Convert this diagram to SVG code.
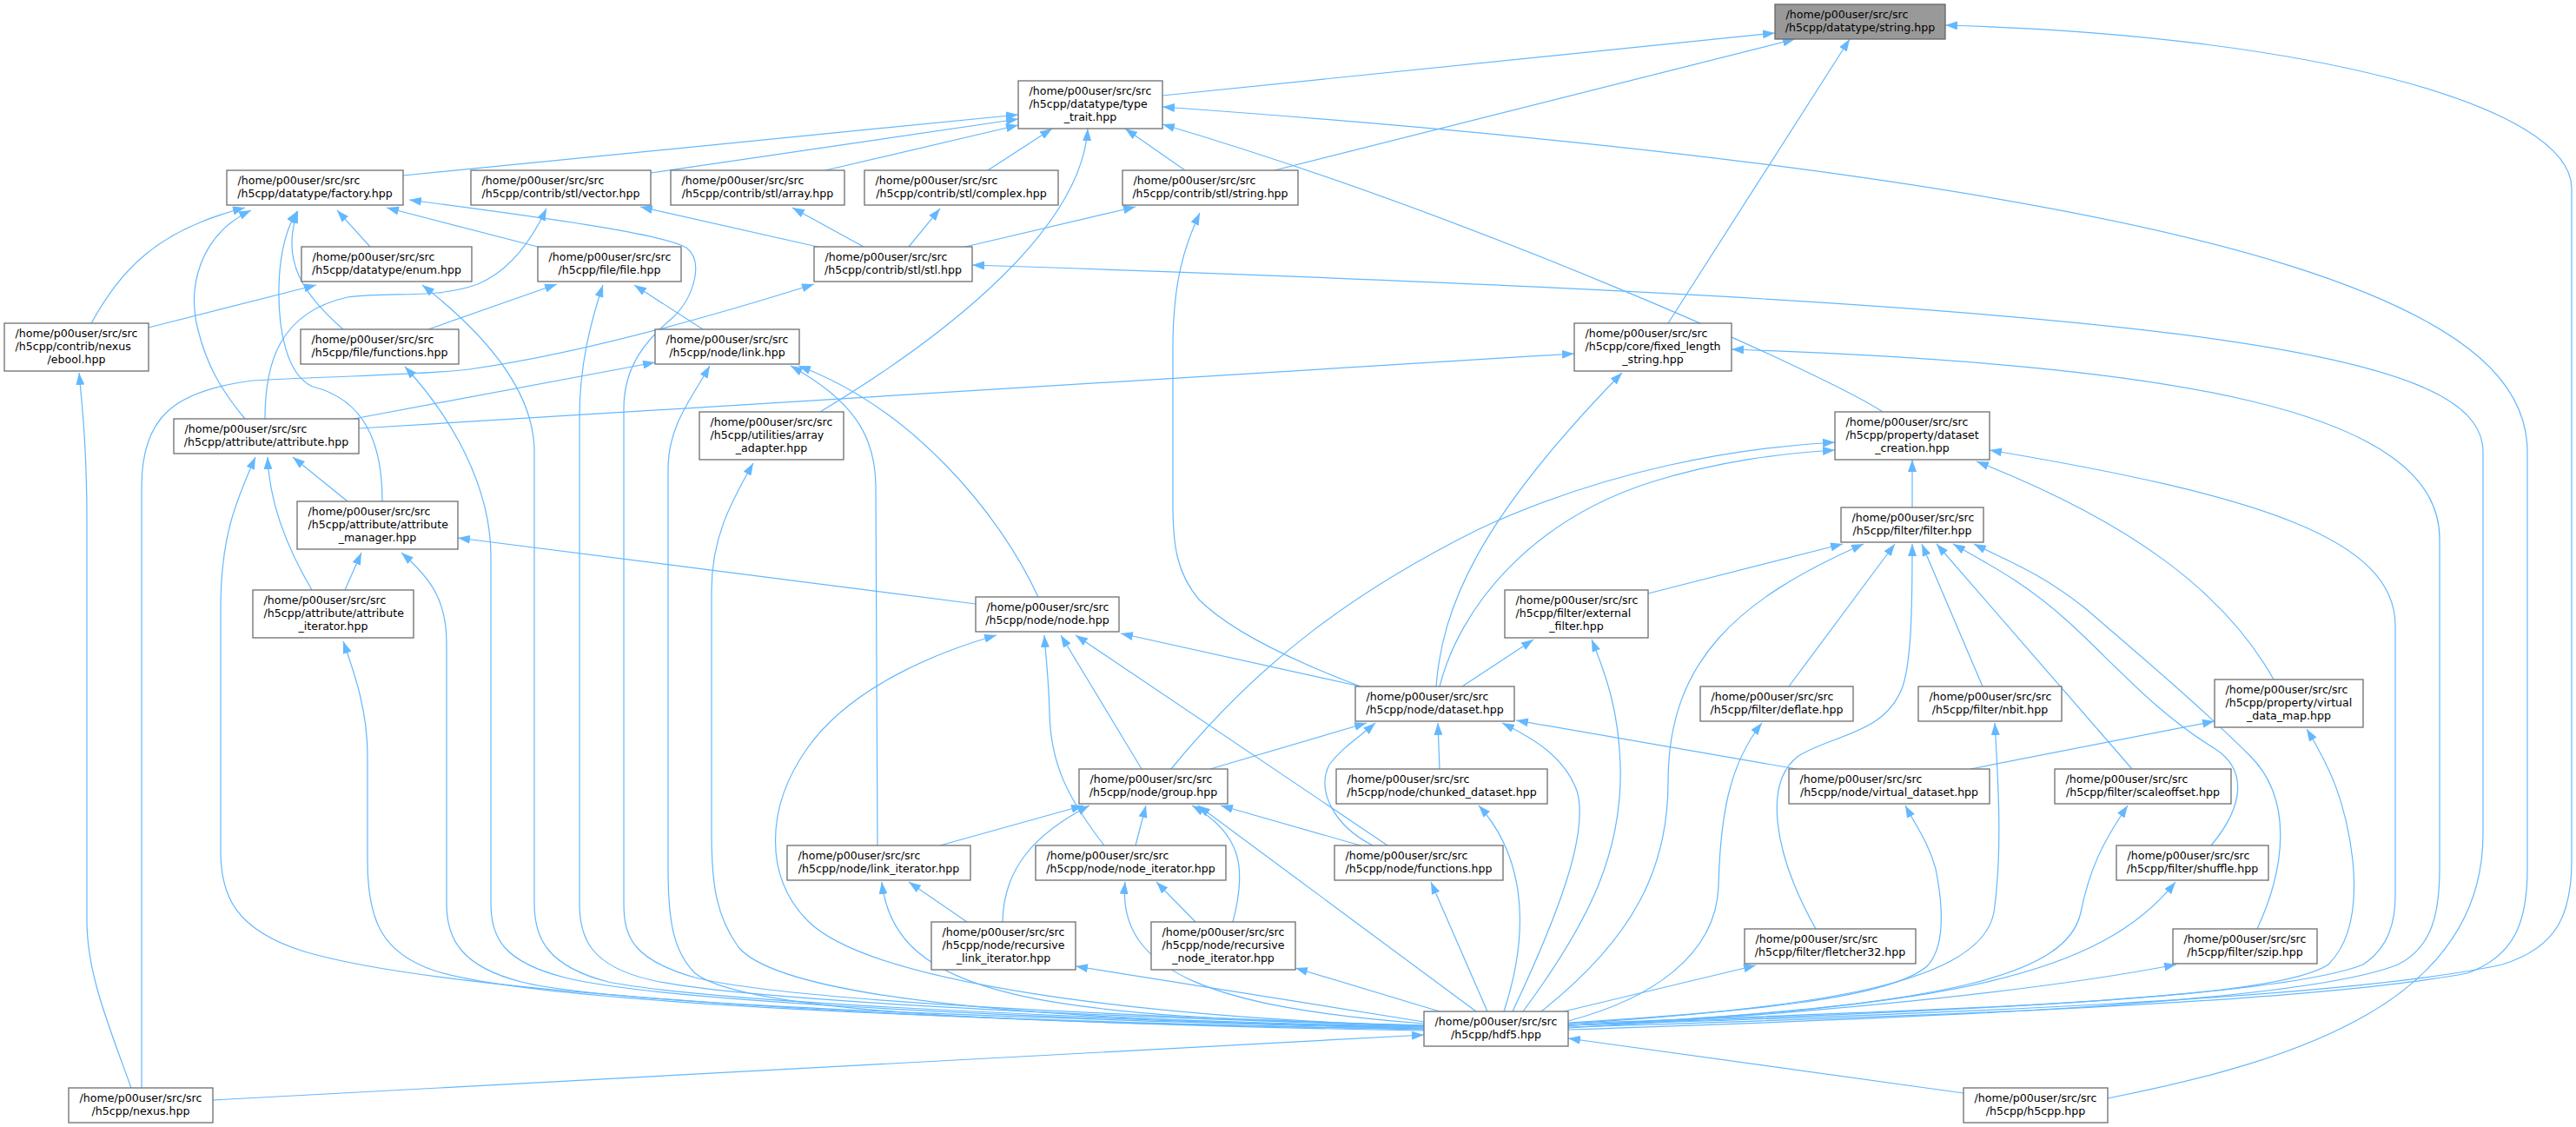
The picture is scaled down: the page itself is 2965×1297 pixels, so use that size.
<svg xmlns="http://www.w3.org/2000/svg" width="2965" height="1297" viewBox="0 0 2965 1297">
<style>
.node rect{fill:#ffffff;stroke:#6e6e6e;stroke-width:1.3}
.node.root rect{fill:#999999;stroke:#666666}
.node text{font-family:"DejaVu Sans","Liberation Sans",sans-serif;font-size:12.6px;fill:#000000}
.node text.c{text-anchor:middle}
#edges path{fill:none;stroke:#63b8ff;stroke-width:1.2;marker-end:url(#arr)}
</style>
<defs>
<marker id="arr" markerUnits="userSpaceOnUse" markerWidth="14" markerHeight="10" refX="14" refY="5" orient="auto" viewBox="0 0 14 10"><path d="M0,0 L14,5 L0,10 Z" fill="#63b8ff"/></marker>
</defs>
<rect x="0" y="0" width="2965" height="1297" fill="#ffffff"/>
<g id="edges">
<path d="M1338,110 L2043,38"/>
<path d="M1467,196 L2066,45"/>
<path d="M1920,372 L2129,45"/>
<path d="M1805,1180 C2200,1168 2700,1150 2880,1110 C2945,1090 2960,1050 2960,990 L2960,217 C2960,120 2650,40 2239,29"/>
<path d="M464,202 L1172,132"/>
<path d="M749,199 L1172,137"/>
<path d="M950,196 L1172,144"/>
<path d="M1137,196 L1211,148"/>
<path d="M1364,196 L1295,148"/>
<path d="M944,474 C1100,380 1245,260 1252,148"/>
<path d="M2167,474 C2100,430 1700,250 1338,143"/>
<path d="M1805,1182 C2200,1170 2650,1155 2840,1120 C2895,1100 2909,1060 2909,1000 L2909,520 C2909,380 2700,220 1338,123"/>
<path d="M105,372 C140,310 180,265 282,239"/>
<path d="M282,482 C255,450 238,420 228,380 C215,330 230,270 289,242"/>
<path d="M395,379 C350,340 322,300 343,243"/>
<path d="M440,577 C440,510 420,460 360,445 C330,432 320,380 321,330 C322,290 330,262 342,243"/>
<path d="M426,284 L388,242"/>
<path d="M619,284 L445,239"/>
<path d="M1639,1180 C1250,1168 900,1150 800,1125 C730,1105 718,1080 718,1040 L718,470 C718,420 745,390 775,365 C800,340 810,300 790,285 C760,268 620,250 471,230"/>
<path d="M305,482 C305,420 320,360 400,342 C450,335 500,345 550,327 C590,310 615,270 629,240"/>
<path d="M941,284 L737,238"/>
<path d="M994,284 L912,239"/>
<path d="M1046,284 L1082,240"/>
<path d="M1111,284 L1307,238"/>
<path d="M1566,790 C1500,765 1420,730 1380,690 C1355,660 1350,630 1350,580 L1350,400 C1350,320 1365,280 1381,245"/>
<path d="M163,1252 L163,560 C163,480 200,450 290,438 C400,432 480,432 540,425 C650,410 800,370 937,327"/>
<path d="M2426,1264 C2650,1220 2858,1150 2858,960 L2858,520 C2858,400 2500,350 1119,305"/>
<path d="M171,377 L364,328"/>
<path d="M1639,1182 C1150,1170 800,1150 700,1130 C630,1112 615,1080 615,1040 L615,520 C615,440 540,370 486,328"/>
<path d="M493,379 L641,327"/>
<path d="M809,379 L730,328"/>
<path d="M1639,1181 C1200,1168 850,1150 750,1128 C680,1112 667,1080 667,1040 L667,480 C667,420 680,370 694,328"/>
<path d="M151,1252 C125,1180 100,1120 100,1060 L100,600 C100,520 95,470 91,429"/>
<path d="M1639,1183 C1100,1170 750,1150 650,1125 C580,1107 565,1080 565,1040 L565,640 C565,560 520,480 466,422"/>
<path d="M407,482 L754,417"/>
<path d="M1195,687 C1150,590 1050,470 919,421"/>
<path d="M1010,973 L1008,560 C1008,500 980,460 910,421"/>
<path d="M1639,1184 C1100,1178 850,1160 800,1120 C775,1095 769,1060 769,1000 L769,540 C769,490 795,460 817,421"/>
<path d="M413,493 L1812,407"/>
<path d="M1653,790 C1660,700 1700,600 1867,429"/>
<path d="M1805,1185 C2200,1172 2650,1155 2760,1110 C2800,1090 2808,1050 2808,1000 L2808,620 C2808,470 2500,420 1993,402"/>
<path d="M400,577 L337,526"/>
<path d="M359,679 C330,630 310,580 308,526"/>
<path d="M1639,1186 C1000,1175 500,1140 350,1095 C270,1070 254,1030 254,980 L254,700 C254,620 270,580 294,526"/>
<path d="M397,679 L416,636"/>
<path d="M1123,695 L527,619"/>
<path d="M1639,1184 C1100,1170 700,1155 600,1130 C530,1112 514,1080 514,1040 L514,740 C514,690 495,665 462,636"/>
<path d="M1639,1185 C1000,1172 600,1150 500,1117 C440,1097 423,1060 423,990 L423,870 C423,820 410,780 395,738"/>
<path d="M1639,1182 C1200,1175 900,1150 850,1090 C825,1055 819,1020 819,960 L819,680 C819,620 840,580 867,533"/>
<path d="M1566,790 L1290,729"/>
<path d="M1314,885 L1221,731"/>
<path d="M1271,973 C1230,920 1209,880 1208,820 C1207,780 1204,760 1202,731"/>
<path d="M1597,973 L1238,731"/>
<path d="M1639,1181 C1300,1170 1000,1130 930,1060 C880,1010 880,930 930,860 C980,790 1080,750 1147,731"/>
<path d="M1348,885 C1450,760 1560,680 1700,610 C1850,540 2000,515 2112,509"/>
<path d="M1657,790 C1680,700 1760,600 1900,555 C1980,530 2050,522 2112,518"/>
<path d="M2201,584 L2201,529"/>
<path d="M2617,782 C2560,680 2450,600 2275,531"/>
<path d="M1805,1180 C2200,1165 2620,1150 2720,1110 C2750,1090 2757,1060 2757,1030 L2757,720 C2757,620 2600,570 2290,518"/>
<path d="M1897,683 L2121,626"/>
<path d="M2059,790 L2181,626"/>
<path d="M2282,790 L2212,626"/>
<path d="M2454,885 L2229,626"/>
<path d="M2545,973 C2585,925 2585,885 2550,862 C2480,820 2430,760 2380,715 C2330,670 2290,650 2248,626"/>
<path d="M2598,1069 C2630,1000 2640,920 2590,870 C2540,820 2470,760 2400,700 C2350,660 2310,645 2272,626"/>
<path d="M2090,1069 C2040,980 2030,900 2070,870 C2110,845 2170,845 2190,790 C2200,760 2201,700 2201,626"/>
<path d="M1774,1164 C1880,1080 1920,1000 1920,900 C1920,760 2000,690 2145,626"/>
<path d="M1683,790 L1765,736"/>
<path d="M1753,1164 C1830,1060 1868,980 1865,880 C1863,820 1850,780 1832,736"/>
<path d="M1393,885 L1573,832"/>
<path d="M1657,885 L1655,832"/>
<path d="M2068,885 L1745,829"/>
<path d="M1580,973 C1535,950 1515,910 1530,880 C1545,860 1565,848 1583,832"/>
<path d="M1741,1164 C1790,1060 1830,960 1815,910 C1800,870 1765,850 1729,832"/>
<path d="M1805,1175 C1900,1150 1975,1100 1978,1020 C1980,940 1990,880 2028,832"/>
<path d="M1805,1178 C2100,1160 2280,1130 2295,1050 C2305,980 2300,900 2296,832"/>
<path d="M2268,885 L2549,830"/>
<path d="M1805,1178 C2300,1160 2620,1150 2680,1110 C2710,1080 2712,1030 2708,990 C2700,920 2680,880 2655,839"/>
<path d="M1082,973 L1247,927"/>
<path d="M1154,1061 C1155,1000 1190,960 1254,927"/>
<path d="M1307,973 L1319,927"/>
<path d="M1419,1061 C1435,1000 1430,960 1372,927"/>
<path d="M1566,973 L1405,927"/>
<path d="M1699,1164 L1379,927"/>
<path d="M1731,1164 C1765,1060 1750,980 1702,927"/>
<path d="M1805,1177 C2000,1165 2180,1150 2220,1110 C2240,1085 2236,1040 2228,1000 C2220,970 2205,950 2193,927"/>
<path d="M1805,1180 C2250,1160 2380,1120 2395,1050 C2405,1000 2420,970 2449,927"/>
<path d="M1113,1061 L1046,1015"/>
<path d="M1639,1180 C1200,1170 1030,1150 1015,1015"/>
<path d="M1376,1061 L1331,1015"/>
<path d="M1639,1178 C1400,1160 1285,1120 1295,1015"/>
<path d="M1712,1164 L1647,1015"/>
<path d="M1805,1180 C2250,1160 2420,1120 2504,1015"/>
<path d="M1639,1176 L1238,1112"/>
<path d="M1657,1164 L1491,1114"/>
<path d="M1800,1164 L2021,1111"/>
<path d="M1805,1183 C2100,1165 2350,1140 2505,1110"/>
<path d="M245,1266 L1639,1191"/>
<path d="M2260,1258 L1805,1195"/>
</g>
<g id="n-string" class="node root"><rect x="2043" y="5" width="196" height="40"/><text x="2055.5" y="21">/home/p00user/src/src</text><text class="c" x="2141" y="36">/h5cpp/datatype/string.hpp</text></g>
<g id="n-type_trait" class="node"><rect x="1172" y="93" width="166" height="55"/><text x="1184.5" y="109">/home/p00user/src/src</text><text x="1184.5" y="124">/h5cpp/datatype/type</text><text class="c" x="1255" y="139">_trait.hpp</text></g>
<g id="n-factory" class="node"><rect x="261" y="196" width="203" height="40"/><text x="273.5" y="212">/home/p00user/src/src</text><text class="c" x="362.5" y="227">/h5cpp/datatype/factory.hpp</text></g>
<g id="n-vector" class="node"><rect x="542" y="196" width="207" height="40"/><text x="554.5" y="212">/home/p00user/src/src</text><text class="c" x="645.5" y="227">/h5cpp/contrib/stl/vector.hpp</text></g>
<g id="n-array" class="node"><rect x="772" y="196" width="200" height="40"/><text x="784.5" y="212">/home/p00user/src/src</text><text class="c" x="872" y="227">/h5cpp/contrib/stl/array.hpp</text></g>
<g id="n-complex" class="node"><rect x="995" y="196" width="223" height="40"/><text x="1007.5" y="212">/home/p00user/src/src</text><text class="c" x="1106.5" y="227">/h5cpp/contrib/stl/complex.hpp</text></g>
<g id="n-cstring" class="node"><rect x="1292" y="196" width="202" height="40"/><text x="1304.5" y="212">/home/p00user/src/src</text><text class="c" x="1393" y="227">/h5cpp/contrib/stl/string.hpp</text></g>
<g id="n-stl" class="node"><rect x="937" y="284" width="182" height="40"/><text x="949.5" y="300">/home/p00user/src/src</text><text class="c" x="1028" y="315">/h5cpp/contrib/stl/stl.hpp</text></g>
<g id="n-enum" class="node"><rect x="347" y="284" width="196" height="40"/><text x="359.5" y="300">/home/p00user/src/src</text><text class="c" x="445" y="315">/h5cpp/datatype/enum.hpp</text></g>
<g id="n-file" class="node"><rect x="619" y="284" width="165" height="40"/><text x="631.5" y="300">/home/p00user/src/src</text><text class="c" x="701.5" y="315">/h5cpp/file/file.hpp</text></g>
<g id="n-ebool" class="node"><rect x="5" y="372" width="166" height="55"/><text x="17.5" y="388">/home/p00user/src/src</text><text x="17.5" y="403">/h5cpp/contrib/nexus</text><text class="c" x="88" y="418">/ebool.hpp</text></g>
<g id="n-ffunctions" class="node"><rect x="346" y="379" width="182" height="40"/><text x="358.5" y="395">/home/p00user/src/src</text><text class="c" x="437" y="410">/h5cpp/file/functions.hpp</text></g>
<g id="n-link" class="node"><rect x="754" y="379" width="166" height="40"/><text x="766.5" y="395">/home/p00user/src/src</text><text class="c" x="837" y="410">/h5cpp/node/link.hpp</text></g>
<g id="n-fixed" class="node"><rect x="1812" y="372" width="181" height="55"/><text x="1824.5" y="388">/home/p00user/src/src</text><text x="1824.5" y="403">/h5cpp/core/fixed_length</text><text class="c" x="1902.5" y="418">_string.hpp</text></g>
<g id="n-attribute" class="node"><rect x="200" y="482" width="213" height="40"/><text x="212.5" y="498">/home/p00user/src/src</text><text class="c" x="306.5" y="513">/h5cpp/attribute/attribute.hpp</text></g>
<g id="n-attr_manager" class="node"><rect x="342" y="577" width="185" height="55"/><text x="354.5" y="593">/home/p00user/src/src</text><text x="354.5" y="608">/h5cpp/attribute/attribute</text><text class="c" x="434.5" y="623">_manager.hpp</text></g>
<g id="n-attr_iterator" class="node"><rect x="291" y="679" width="185" height="55"/><text x="303.5" y="695">/home/p00user/src/src</text><text x="303.5" y="710">/h5cpp/attribute/attribute</text><text class="c" x="383.5" y="725">_iterator.hpp</text></g>
<g id="n-array_adapter" class="node"><rect x="805" y="474" width="166" height="55"/><text x="817.5" y="490">/home/p00user/src/src</text><text x="817.5" y="505">/h5cpp/utilities/array</text><text class="c" x="888" y="520">_adapter.hpp</text></g>
<g id="n-node" class="node"><rect x="1123" y="687" width="165" height="40"/><text x="1135.5" y="703">/home/p00user/src/src</text><text class="c" x="1205.5" y="718">/h5cpp/node/node.hpp</text></g>
<g id="n-dscreation" class="node"><rect x="2112" y="474" width="178" height="55"/><text x="2124.5" y="490">/home/p00user/src/src</text><text x="2124.5" y="505">/h5cpp/property/dataset</text><text class="c" x="2201" y="520">_creation.hpp</text></g>
<g id="n-filter" class="node"><rect x="2119" y="584" width="164" height="40"/><text x="2131.5" y="600">/home/p00user/src/src</text><text class="c" x="2201" y="615">/h5cpp/filter/filter.hpp</text></g>
<g id="n-extfilter" class="node"><rect x="1732" y="679" width="165" height="55"/><text x="1744.5" y="695">/home/p00user/src/src</text><text x="1744.5" y="710">/h5cpp/filter/external</text><text class="c" x="1814.5" y="725">_filter.hpp</text></g>
<g id="n-dataset" class="node"><rect x="1560" y="790" width="183" height="40"/><text x="1572.5" y="806">/home/p00user/src/src</text><text class="c" x="1651.5" y="821">/h5cpp/node/dataset.hpp</text></g>
<g id="n-deflate" class="node"><rect x="1957" y="790" width="176" height="40"/><text x="1969.5" y="806">/home/p00user/src/src</text><text class="c" x="2045" y="821">/h5cpp/filter/deflate.hpp</text></g>
<g id="n-nbit" class="node"><rect x="2208" y="790" width="165" height="40"/><text x="2220.5" y="806">/home/p00user/src/src</text><text class="c" x="2290.5" y="821">/h5cpp/filter/nbit.hpp</text></g>
<g id="n-vdmap" class="node"><rect x="2549" y="782" width="171" height="55"/><text x="2561.5" y="798">/home/p00user/src/src</text><text x="2561.5" y="813">/h5cpp/property/virtual</text><text class="c" x="2634.5" y="828">_data_map.hpp</text></g>
<g id="n-group" class="node"><rect x="1242" y="885" width="171" height="40"/><text x="1254.5" y="901">/home/p00user/src/src</text><text class="c" x="1327.5" y="916">/h5cpp/node/group.hpp</text></g>
<g id="n-chunked" class="node"><rect x="1538" y="885" width="243" height="40"/><text x="1550.5" y="901">/home/p00user/src/src</text><text class="c" x="1659.5" y="916">/h5cpp/node/chunked_dataset.hpp</text></g>
<g id="n-vdataset" class="node"><rect x="2059" y="885" width="231" height="40"/><text x="2071.5" y="901">/home/p00user/src/src</text><text class="c" x="2174.5" y="916">/h5cpp/node/virtual_dataset.hpp</text></g>
<g id="n-scaleoffset" class="node"><rect x="2365" y="885" width="203" height="40"/><text x="2377.5" y="901">/home/p00user/src/src</text><text class="c" x="2466.5" y="916">/h5cpp/filter/scaleoffset.hpp</text></g>
<g id="n-link_iterator" class="node"><rect x="906" y="973" width="211" height="40"/><text x="918.5" y="989">/home/p00user/src/src</text><text class="c" x="1011.5" y="1004">/h5cpp/node/link_iterator.hpp</text></g>
<g id="n-node_iterator" class="node"><rect x="1192" y="973" width="219" height="40"/><text x="1204.5" y="989">/home/p00user/src/src</text><text class="c" x="1301.5" y="1004">/h5cpp/node/node_iterator.hpp</text></g>
<g id="n-nfunctions" class="node"><rect x="1536" y="973" width="194" height="40"/><text x="1548.5" y="989">/home/p00user/src/src</text><text class="c" x="1633" y="1004">/h5cpp/node/functions.hpp</text></g>
<g id="n-shuffle" class="node"><rect x="2436" y="973" width="175" height="40"/><text x="2448.5" y="989">/home/p00user/src/src</text><text class="c" x="2523.5" y="1004">/h5cpp/filter/shuffle.hpp</text></g>
<g id="n-rec_link_iter" class="node"><rect x="1072" y="1061" width="166" height="55"/><text x="1084.5" y="1077">/home/p00user/src/src</text><text x="1084.5" y="1092">/h5cpp/node/recursive</text><text class="c" x="1155" y="1107">_link_iterator.hpp</text></g>
<g id="n-rec_node_iter" class="node"><rect x="1325" y="1061" width="166" height="55"/><text x="1337.5" y="1077">/home/p00user/src/src</text><text x="1337.5" y="1092">/h5cpp/node/recursive</text><text class="c" x="1408" y="1107">_node_iterator.hpp</text></g>
<g id="n-fletcher" class="node"><rect x="2008" y="1069" width="197" height="40"/><text x="2020.5" y="1085">/home/p00user/src/src</text><text class="c" x="2106.5" y="1100">/h5cpp/filter/fletcher32.hpp</text></g>
<g id="n-szip" class="node"><rect x="2501" y="1069" width="166" height="40"/><text x="2513.5" y="1085">/home/p00user/src/src</text><text class="c" x="2584" y="1100">/h5cpp/filter/szip.hpp</text></g>
<g id="n-hdf5" class="node"><rect x="1639" y="1164" width="166" height="40"/><text x="1651.5" y="1180">/home/p00user/src/src</text><text class="c" x="1722" y="1195">/h5cpp/hdf5.hpp</text></g>
<g id="n-nexus" class="node"><rect x="79" y="1252" width="166" height="40"/><text x="91.5" y="1268">/home/p00user/src/src</text><text class="c" x="162" y="1283">/h5cpp/nexus.hpp</text></g>
<g id="n-h5cpp" class="node"><rect x="2260" y="1252" width="166" height="40"/><text x="2272.5" y="1268">/home/p00user/src/src</text><text class="c" x="2343" y="1283">/h5cpp/h5cpp.hpp</text></g>
</svg>
